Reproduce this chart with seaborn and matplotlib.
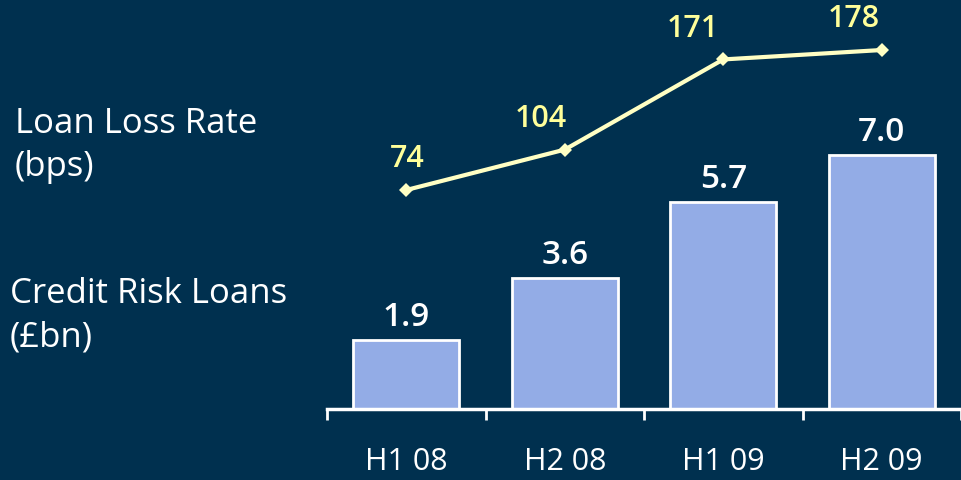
import matplotlib
matplotlib.use("Agg")
import matplotlib.pyplot as plt
import seaborn as sns
import pandas as pd
import numpy as np

# Half-year periods and the two measures shown for each
periods = ["H1 08", "H2 08", "H1 09", "H2 09"]
credit_risk_loans = [1.9, 3.6, 5.7, 7.0]      # £bn
loan_loss_rate = [74, 104, 171, 178]          # bps

BG = "#00304F"
BAR = "#93ACE6"
LINE = "#FFFFC4"
LINE_LABEL = "#FFFF9A"
WHITE = "#FFFFFF"
FONT = "Open Sans"

sns.set_theme(style="white")
plt.rcParams["font.family"] = [FONT, "DejaVu Sans"]

df = pd.DataFrame({"period": periods, "crl": credit_risk_loans, "llr": loan_loss_rate})

fig = plt.figure(figsize=(9.61, 4.81), dpi=100, facecolor=BG)
ax = fig.add_axes([327 / 961, 71 / 481, 634 / 961, 410 / 481])
ax.set_facecolor(BG)

sns.barplot(data=df, x="period", y="crl", color=BAR, saturation=1,
            edgecolor=WHITE, linewidth=2, width=0.67, ax=ax)
ax.set_xlim(-0.5, 3.5)
ax.set_ylim(0, 11.29)
ax.bar_label(ax.containers[0], labels=[f"{v:.1f}" for v in credit_risk_loans],
             padding=5, color=WHITE, fontsize=24, fontweight="semibold")

for s in ["left", "right", "top"]:
    ax.spines[s].set_visible(False)
ax.spines["bottom"].set_color(WHITE)
ax.spines["bottom"].set_linewidth(2.5)
ax.set_yticks([])
ax.set_xlabel("")
ax.set_ylabel("")
ax.tick_params(axis="x", which="major", bottom=True, length=0, pad=27,
               labelsize=22, labelcolor=WHITE)
ax.set_xticks(np.arange(-0.5, 4.0, 1.0), minor=True)
ax.tick_params(axis="x", which="minor", bottom=True, length=8, width=2,
               color=WHITE, direction="out")

# Loan loss rate on its own scale above the bars
ax2 = ax.twinx()
ax2.set_ylim(-88.7, 215.9)
sns.lineplot(x=np.arange(len(periods)), y=loan_loss_rate, ax=ax2, color=LINE,
             linewidth=3, marker="D", markersize=7, markeredgewidth=0,
             markerfacecolor=LINE)
ax2.set_xlim(-0.5, 3.5)
ax2.axis("off")
label_shift = [1, -17, -22, -20]
for i, v in enumerate(loan_loss_rate):
    ax2.annotate(str(v), (i, v), xytext=(label_shift[i], 12), textcoords="offset points",
                 ha="center", va="bottom", color=LINE_LABEL, fontsize=22,
                 fontweight="semibold")

# Series captions on the left
fig.text(15 / 961, 1 - 133 / 481, "Loan Loss Rate", color=WHITE, fontsize=25, va="baseline")
fig.text(15 / 961, 1 - 176 / 481, "(bps)", color=WHITE, fontsize=25, va="baseline")
fig.text(10 / 961, 1 - 303 / 481, "Credit Risk Loans", color=WHITE, fontsize=25, va="baseline")
fig.text(10 / 961, 1 - 346 / 481, "(£bn)", color=WHITE, fontsize=25, va="baseline")

fig.savefig("out.png", dpi=100, facecolor=BG)
